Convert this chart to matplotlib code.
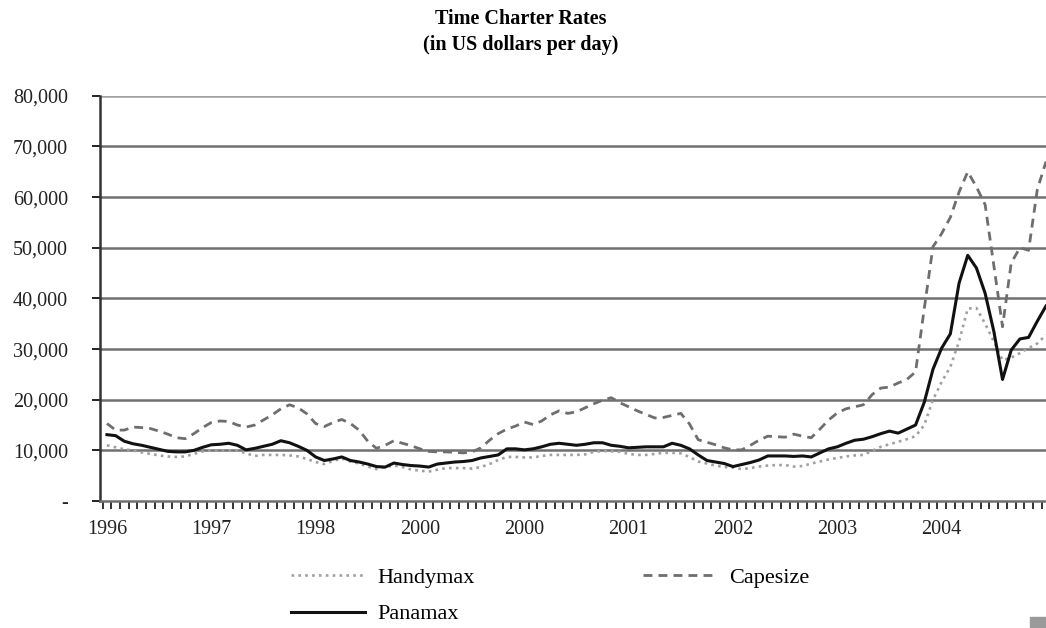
"""Time charter rates 1996-2004: Handymax / Capesize / Panamax (USD per day)."""

import matplotlib

matplotlib.use("Agg")
import matplotlib.pyplot as plt
import numpy as np
from matplotlib.patches import Rectangle
from matplotlib.ticker import FuncFormatter

# monthly values, Jan 1996 onwards
panamax = [
    13100, 12900, 11800, 11300, 11000, 10600, 10200, 9800, 9700, 9700, 10000, 10600,
    11100, 11200, 11400, 11000, 10100, 10400, 10800, 11200, 11900, 11500, 10800, 10000,
    8700, 8000, 8300, 8700, 8000, 7700, 7300, 6800, 6700, 7500, 7200, 7000,
    6900, 6700, 7300, 7500, 7700, 7800, 8000, 8500, 8800, 9100, 10300, 10300,
    10100, 10300, 10700, 11200, 11400, 11200, 11000, 11200, 11500, 11500, 11000, 10800,
    10500, 10600, 10700, 10700, 10700, 11400, 11000, 10300, 9100, 8000, 7700, 7400,
    6800, 7200, 7600, 8100, 8900, 8900, 8900, 8800, 8900, 8700, 9500, 10300,
    10700, 11400, 12000, 12200, 12700, 13300, 13800, 13400, 14200, 15000, 19500, 26000,
    30200, 33000, 43000, 48500, 46000, 41000, 33500, 24000, 29800, 32000, 32300, 35500,
    38500,
]
capesize = [
    15300, 14000, 14000, 14600, 14500, 14300, 13800, 13200, 12500, 12300, 13300, 14500,
    15500, 15800, 15700, 15000, 14600, 15000, 16000, 17000, 18200, 19000, 18400, 17200,
    15300, 14700, 15500, 16100, 15300, 14000, 11800, 10400, 11000, 11900, 11400, 10900,
    10300, 9800, 9700, 9700, 9600, 9500, 9700, 10500, 12000, 13300, 14200, 14800,
    15600, 15100, 15800, 17000, 17800, 17300, 17600, 18400, 19200, 19900, 20400, 19400,
    18600, 17800, 17100, 16400, 16500, 16900, 17300, 15200, 12100, 11600, 11100, 10500,
    10100, 10100, 11000, 12000, 12800, 12700, 12600, 13200, 12800, 12500, 14200, 16000,
    17400, 18200, 18600, 19000, 21000, 22300, 22500, 23300, 24000, 25500, 38000, 50200,
    52800, 56000, 61000, 65000, 62000, 58500, 46500, 34400, 47000, 50000, 49500, 61500,
    67000,
]
handymax = [
    11000, 10600, 10200, 10000, 9600, 9300, 9000, 8800, 8700, 8800, 9300, 9800,
    10000, 10000, 10000, 10000, 9400, 8900, 9100, 9100, 9100, 9000, 8800, 8300,
    7700, 7300, 7900, 8400, 7800, 7400, 6800, 6300, 6700, 7000, 6700, 6200,
    6000, 5800, 6200, 6500, 6500, 6500, 6400, 6700, 7300, 8100, 8700, 8700,
    8600, 8600, 8900, 9100, 9100, 9100, 9100, 9200, 9700, 9900, 9800, 9700,
    9300, 9100, 9100, 9300, 9500, 9500, 9400, 8700, 7800, 7400, 7000, 6700,
    6600, 6300, 6500, 6800, 7000, 7100, 7100, 6800, 6900, 7400, 7800, 8200,
    8500, 8800, 9000, 9100, 9900, 10700, 11200, 11700, 12200, 12800, 15000, 20000,
    23500, 26500, 31500, 38000, 38100, 35000, 31500, 27800, 28300, 29200, 30200, 31100,
    32800,
]
# labels exactly as printed in the source (note the repeated "2000")
year_labels = ["1996", "1997", "1998", "2000", "2000", "2001", "2002", "2003", "2004"]

plt.rcParams["font.family"] = ["Liberation Serif", "DejaVu Serif"]

fig = plt.figure(figsize=(10.46, 6.28), dpi=100)
ax = fig.add_axes([0.0956, 0.2022, 0.9044, 0.6453])

x = np.arange(len(panamax))
ax.plot(x, handymax, color="#a0a0a0", lw=1.9, linestyle=(0, (1, 1.6)), label="Handymax")
ax.plot(x, panamax, color="#111111", lw=2.2, label="Panamax")
ax.plot(x, capesize, color="#6e6e6e", lw=2.0, linestyle=(0, (3.2, 2.2)), label="Capesize")

ax.set_ylim(0, 80000)
ax.set_xlim(-0.8, 108)
ax.set_yticks(np.arange(0, 80001, 10000))
ax.yaxis.set_major_formatter(FuncFormatter(lambda v, p: "-" if v == 0 else f"{v:,.0f}"))
for yv in np.arange(10000, 80001, 10000):
    ax.axhline(yv, color="#707070" if yv < 80000 else "#a0a0a0", lw=1.8, zorder=0)

ax.set_xticks(np.arange(0, 97, 12))
ax.set_xticklabels(year_labels)
ax.set_xticks(np.arange(-0.5, 108, 1), minor=True)
ax.tick_params(axis="x", which="major", length=0, pad=14, labelsize=14.5, colors="#222222")
ax.tick_params(axis="x", which="minor", length=6, width=1.4, direction="out", color="#333333")
ax.tick_params(axis="y", length=6, width=1.4, direction="out", pad=17, labelsize=14.5,
               colors="#222222")

for side in ["top", "right"]:
    ax.spines[side].set_visible(False)
ax.spines["left"].set_color("#333333")
ax.spines["left"].set_linewidth(1.8)
ax.spines["bottom"].set_color("#707070")
ax.spines["bottom"].set_linewidth(1.8)

fig.text(0.498, 0.970, "Time Charter Rates", ha="center", va="center",
         fontsize=14.5, fontweight="bold")
fig.text(0.498, 0.928, "(in US dollars per day)", ha="center", va="center",
         fontsize=14.5, fontweight="bold")

fig.legend(loc="center", bbox_to_anchor=(0.526, 0.051), ncol=2, frameon=False,
           fontsize=16, handlelength=3.3, handletextpad=0.55, columnspacing=7.6,
           labelspacing=0.7, borderpad=0)

# small grey block in the bottom-right corner of the scan
fig.patches.append(Rectangle((0.985, 0.0), 0.015, 0.017, transform=fig.transFigure,
                             color="#9a9a9a", zorder=5))

fig.savefig("out.png", dpi=100)
